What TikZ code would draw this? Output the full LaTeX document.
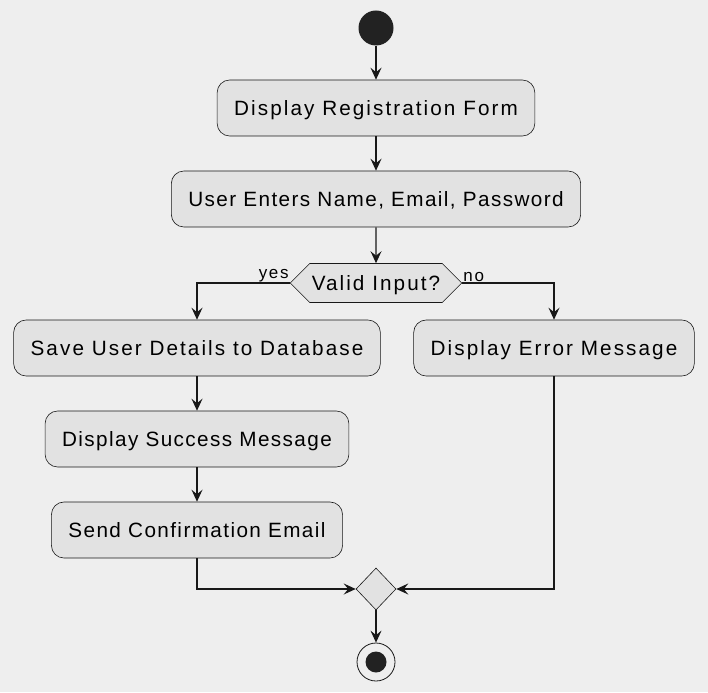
\documentclass[tikz,border=0pt]{standalone}
\usepackage{fontspec}
\setmainfont{Liberation Sans}[LetterSpace=10]
\usepackage{xcolor}
\usetikzlibrary{arrows.meta,shapes.geometric,shapes.symbols}
\definecolor{bgcol}{HTML}{EEEEEE}
\definecolor{boxcol}{HTML}{E2E2E2}
\definecolor{linecol}{HTML}{181818}
\definecolor{dotcol}{HTML}{222222}
\tikzset{>={Stealth[length=12pt,width=11pt,inset=4.5pt]}}
\tikzstyle{action}=[draw=linecol,fill=boxcol,rounded corners=12.5pt,minimum height=56pt,inner xsep=17pt,text height=15pt,text depth=0pt,font=\fontsize{20.7}{24}\selectfont,line width=0.6pt]
\tikzstyle{tight}=[font=\fontsize{20.7}{24}\selectfont\addfontfeature{LetterSpace=6.8}]
\tikzstyle{branch}=[draw=linecol,fill=boxcol,signal,signal to=west and east,signal pointer angle=90,minimum height=39pt,inner xsep=2pt,text height=15pt,text depth=0pt,font=\fontsize{20.7}{24}\selectfont,line width=0.6pt]
\tikzstyle{merge}=[draw=linecol,fill=boxcol,diamond,minimum width=40pt,minimum height=42pt,inner sep=0pt,line width=0.6pt]
\tikzstyle{guard}=[font=\fontsize{17}{19}\selectfont,inner sep=1pt]
\tikzstyle{flow}=[->,line width=1.2pt,draw=linecol]

\begin{document}
\begin{tikzpicture}[x=1pt,y=-1pt]
  \fill[bgcol] (0,0) rectangle (708,692);
  \useasboundingbox (0,0) rectangle (708,692);

  % START / STOP
  \node[circle,fill=dotcol,minimum size=35pt,inner sep=0pt] (start) at (376,28) {};
  \node[circle,draw=linecol,line width=0.8pt,minimum size=38pt,inner sep=0pt] (stop) at (376,662) {};
  \fill[dotcol] (stop.center) circle (10.5);

  % ACTIONS
  \node[action]       (form)    at (376,108) {Display Registration Form};
  \node[action,tight] (enter)   at (376,199) {User Enters Name, Email, Password};
  \node[branch]       (valid)   at (376,283) {Valid Input?};
  \node[action]       (save)    at (197,348) {Save User Details to Database};
  \node[action]       (error)   at (554,348) {Display Error Message};
  \node[action,tight] (success) at (197,439) {Display Success Message};
  \node[action,tight] (confirm) at (197,530) {Send Confirmation Email};
  \node[merge]        (join)    at (376,589) {};

  % FLOWS
  \draw[flow] (start) -- (form);
  \draw[flow] (form) -- (enter);
  \draw[flow] (enter) -- (valid);
  \draw[flow] (valid.west) -| (save);
  \draw[flow] (valid.east) -| (error);
  \draw[flow] (save) -- (success);
  \draw[flow] (success) -- (confirm);
  \draw[flow] (confirm) |- (join);
  \draw[flow] (error) |- (join);
  \draw[flow] (join) -- (stop);
  \node[guard,anchor=south east] (yes) at (valid.west) {yes};
  \node[guard,anchor=south west] (no)  at (valid.east) {no};

\end{tikzpicture}
\end{document}
